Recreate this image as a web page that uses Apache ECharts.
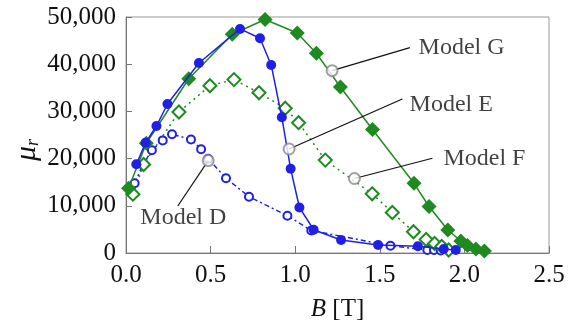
<!DOCTYPE html>
<html>
<head>
<meta charset="utf-8">
<script src="https://cdn.jsdelivr.net/npm/echarts@6/dist/echarts.min.js"></script>
<style>
  html, body { margin: 0; padding: 0; background: #fff; }
  #chart { width: 573px; height: 329px; }
</style>
</head>
<body>
<div id="chart"></div>
<script>
// Model D - open blue circles, dash-dot
const bD = [0.051, 0.100, 0.153, 0.217, 0.272, 0.384, 0.444, 0.486, 0.591, 0.727, 0.954, 1.095, 1.563, 1.781, 1.820, 1.860];
const muD = [14770, 18710, 21760, 23860, 25170, 24050, 21970, 19960, 15830, 11930, 7900, 4770, 1530, 640, 640, 530];
// Model E - solid blue circles
const bE = [0.061, 0.116, 0.180, 0.245, 0.431, 0.674, 0.792, 0.858, 0.921, 0.973, 1.025, 1.109, 1.271, 1.490, 1.725, 1.878, 1.949];
const muE = [18800, 23370, 26910, 31570, 40260, 47470, 45500, 39840, 28750, 17840, 9640, 4940, 2750, 1700, 1420, 850, 640];
// Model F - open green diamonds, dotted
const bF = [0.041, 0.104, 0.313, 0.496, 0.638, 0.786, 0.941, 1.020, 1.178, 1.455, 1.574, 1.699, 1.774, 1.824, 1.866, 1.907];
const muF = [12460, 18750, 29880, 35430, 36740, 33950, 30660, 27610, 19680, 12540, 8580, 4510, 2860, 2010, 1380, 640];
// Model G - solid green diamonds
const bG = [0.015, 0.120, 0.371, 0.628, 0.822, 1.012, 1.125, 1.267, 1.457, 1.702, 1.791, 1.902, 1.979, 2.018, 2.068, 2.118];
const muG = [13710, 23250, 36910, 46340, 49480, 46620, 42320, 35180, 26170, 14770, 9850, 4870, 2540, 1590, 850, 420];

// callouts: [B, mu] of the marker circle, end of leader line, text anchor
const calloutNames = ['Model G', 'Model E', 'Model F', 'Model D'];
const calloutFrom = [[1.218, 38630], [0.964, 22040], [1.350, 15790], [0.486, 19580]];
const calloutTo = [[1.678, 43500], [1.633, 32630], [1.811, 20070], [0.306, 9960]];
const calloutText = [[1.729, 43440], [1.676, 31360], [1.876, 19920], [0.339, 7420]];

const xTicks = [0, 0.5, 1.0, 1.5, 2.0, 2.5];
const yTicks = [0, 10000, 20000, 30000, 40000, 50000];

const zip = (xs, ys) => xs.map((x, i) => [x, ys[i]]);
const BLUE = '#1f1fe6';
const GREEN = '#1f8a1f';
const FONT = "'Liberation Serif', 'DejaVu Serif', serif";

const chart = echarts.init(document.getElementById('chart'));

const series = [
  {
    name: 'Model D', type: 'line', data: zip(bD, muD),
    symbol: 'emptyCircle', symbolSize: 8,
    lineStyle: { color: BLUE, width: 1.5, type: [5, 3, 2, 3] },
    itemStyle: { color: BLUE, borderWidth: 1.3 }, z: 3
  },
  {
    name: 'Model F', type: 'line', data: zip(bF, muF),
    symbol: 'emptyDiamond', symbolSize: 13,
    lineStyle: { color: GREEN, width: 1.5, type: [2, 4] },
    itemStyle: { color: GREEN, borderWidth: 1.3 }, z: 3
  },
  {
    name: 'Model G', type: 'line', data: zip(bG, muG),
    symbol: 'diamond', symbolSize: 15,
    lineStyle: { color: GREEN, width: 1.5 },
    itemStyle: { color: GREEN }, z: 4
  },
  {
    name: 'Model E', type: 'line', data: zip(bE, muE),
    symbol: 'circle', symbolSize: 10,
    lineStyle: { color: BLUE, width: 1.5 },
    itemStyle: { color: BLUE }, z: 5
  }
];

calloutNames.forEach((n, i) => {
  series.push({
    type: 'line', data: [calloutFrom[i], calloutTo[i]], symbol: 'none',
    lineStyle: { color: '#111', width: 1.2 }, silent: true, z: 6
  });
});

series.push({
  type: 'scatter', data: calloutFrom, symbol: 'emptyCircle', symbolSize: 11,
  itemStyle: { color: '#888', borderColor: '#888', borderWidth: 1 }, silent: true, z: 7
});

series.push({
  type: 'scatter', symbolSize: 0, silent: true, z: 8,
  data: calloutText.map((c, i) => ({
    value: c,
    label: {
      show: true, formatter: calloutNames[i],
      position: i === 3 ? 'inside' : 'right', distance: 0,
      fontFamily: FONT, fontSize: 24, color: '#111'
    }
  }))
});

chart.setOption({
  animation: false,
  backgroundColor: '#fff',
  textStyle: { fontFamily: FONT },
  grid: { left: 126, right: 24, top: 17, bottom: 76, show: true, borderColor: '#999', borderWidth: 1 },
  xAxis: {
    type: 'value', min: xTicks[0], max: xTicks[xTicks.length - 1], interval: 0.5,
    axisLine: { show: true, lineStyle: { color: '#777' } },
    axisTick: { show: true, inside: true, length: 7, lineStyle: { color: '#777' } },
    splitLine: { show: false },
    axisLabel: { fontFamily: FONT, fontSize: 25, color: '#111', margin: 10, formatter: (v) => v.toFixed(1) },
    name: '{i|B}{n| [T]}', nameLocation: 'middle', nameGap: 44,
    nameTextStyle: {
      rich: {
        i: { fontFamily: FONT, fontSize: 25, fontStyle: 'italic', color: '#111' },
        n: { fontFamily: FONT, fontSize: 25, color: '#111' }
      }
    }
  },
  yAxis: {
    type: 'value', min: yTicks[0], max: yTicks[yTicks.length - 1], interval: 10000,
    axisLine: { show: true, lineStyle: { color: '#777' } },
    axisTick: { show: true, inside: true, length: 6, lineStyle: { color: '#777' } },
    splitLine: { show: false },
    axisLabel: { fontFamily: FONT, fontSize: 25, color: '#111', margin: 10, formatter: (v) => v.toLocaleString('en-US') }
  },
  graphic: [{
    type: 'text', x: 27, y: 150, rotation: Math.PI / 2,
    style: {
      text: '{m|μ}{r|r}', align: 'center', verticalAlign: 'middle',
      rich: {
        m: { fontFamily: FONT, fontSize: 30, fontStyle: 'italic', fill: '#111' },
        r: { fontFamily: FONT, fontSize: 18, fontStyle: 'italic', fill: '#111', padding: [12, 0, 0, 0] }
      }
    }
  }],
  series: series
});
</script>
</body>
</html>
